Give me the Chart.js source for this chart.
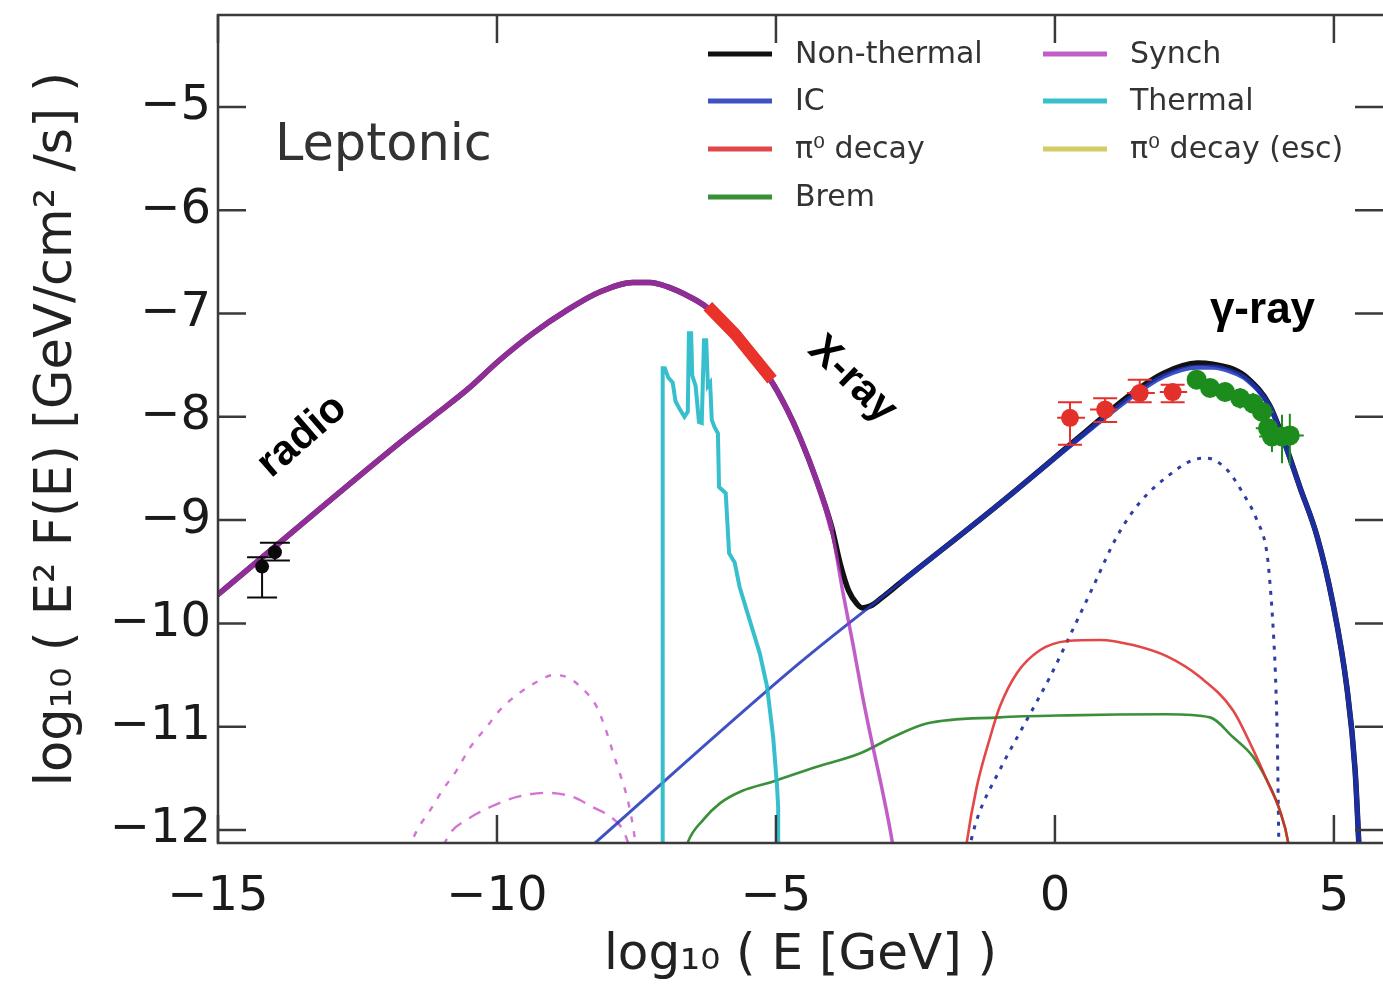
<!DOCTYPE html>
<html>
<head>
<meta charset="utf-8">
<script src="https://cdn.jsdelivr.net/npm/chart.js@4.4.1/dist/chart.umd.min.js"></script>
<style>
  html, body { margin: 0; padding: 0; background: #fff; }
  #wrap { width: 1383px; height: 986px; }
</style>
</head>
<body>
<div id="wrap"><canvas id="sed" width="1383" height="986"></canvas></div>
<script>
// Leptonic SED model, points are [log10 E (GeV), log10 E^2 F(E) (GeV/cm^2/s)]
const nonThermal = [
  [-15.2, -9.81], [-15, -9.72], [-11.74, -8.25], [-11.15, -8.0], [-10.54, -7.74], [-9.95, -7.45],
  [-9.35, -7.19], [-8.75, -6.97], [-8.15, -6.79], [-7.56, -6.70], [-7.26, -6.70], [-6.95, -6.74],
  [-6.54, -6.84], [-6.24, -6.94], [-5.77, -7.19], [-5.1, -7.64], [-4.8, -7.93], [-4.57, -8.2],
  [-4.27, -8.62], [-4.0, -9.07], [-3.85, -9.42], [-3.7, -9.68], [-3.55, -9.81], [-3.45, -9.85],
  [-3.3, -9.83], [-3.1, -9.75], [-2.78, -9.61], [-0.99, -8.84], [0.45, -8.19], [1.34, -7.79],
  [1.94, -7.58], [2.55, -7.48], [2.83, -7.49], [3.2, -7.54], [3.44, -7.62], [3.85, -7.89],
  [4.09, -8.21], [4.39, -8.68], [4.70, -9.16], [4.98, -9.80], [5.23, -10.61], [5.38, -11.42], [5.47, -12.4]
];
const synch = [
  [-15.2, -9.81], [-15, -9.72], [-11.74, -8.25], [-11.15, -8.0], [-10.54, -7.74], [-9.95, -7.45],
  [-9.35, -7.19], [-8.75, -6.97], [-8.15, -6.79], [-7.56, -6.70], [-7.26, -6.70], [-6.95, -6.74],
  [-6.54, -6.84], [-6.24, -6.94], [-5.77, -7.19], [-5.1, -7.64], [-4.8, -7.93], [-4.57, -8.2],
  [-4.27, -8.62], [-4.0, -9.1], [-3.8, -9.7], [-3.62, -10.2], [-3.45, -10.7], [-3.28, -11.15],
  [-3.1, -11.6], [-2.92, -12.1], [-2.85, -12.35]
];
const ic = [
  [-8.4, -12.2], [-4.57, -10.38], [-2.78, -9.61], [-0.99, -8.84], [0.45, -8.2], [1.34, -7.82],
  [1.94, -7.61], [2.55, -7.52], [2.83, -7.52], [3.2, -7.57], [3.44, -7.64], [3.85, -7.90],
  [4.09, -8.22], [4.39, -8.68], [4.70, -9.16], [4.98, -9.80], [5.23, -10.61], [5.38, -11.42], [5.47, -12.4]
];
const thermal = [
  [-7.03, -12.3], [-7.03, -7.53], [-6.99, -7.53], [-6.93, -7.62], [-6.85, -7.67], [-6.80, -7.85],
  [-6.72, -7.93], [-6.64, -8.0], [-6.58, -7.95], [-6.56, -7.19], [-6.52, -7.19], [-6.50, -7.6],
  [-6.44, -7.7], [-6.38, -8.05], [-6.33, -8.06], [-6.29, -7.26], [-6.25, -7.26], [-6.22, -7.7],
  [-6.18, -7.67], [-6.15, -8.03], [-6.10, -8.1], [-6.04, -8.16], [-6.02, -8.68], [-5.90, -8.74],
  [-5.84, -9.32], [-5.74, -9.41], [-5.65, -9.65], [-5.47, -9.97], [-5.29, -10.29], [-5.16, -10.61],
  [-5.05, -11.1], [-4.98, -11.58], [-4.96, -11.78], [-4.96, -12.3]
];
const pi0 = [
  [-1.62, -12.3], [-1.58, -12.12], [-1.40, -11.58], [-1.16, -11.10], [-0.99, -10.81], [-0.68, -10.48],
  [-0.27, -10.26], [0.22, -10.17], [0.81, -10.16], [1.40, -10.21], [2.01, -10.32], [2.60, -10.52],
  [3.19, -10.84], [3.55, -11.22], [3.80, -11.52], [4.03, -11.81], [4.18, -12.12], [4.22, -12.3]
];
const brem = [
  [-6.62, -12.2], [-6.58, -12.12], [-6.30, -11.90], [-6.0, -11.74], [-5.6, -11.62], [-5.05, -11.53],
  [-4.34, -11.40], [-3.5, -11.26], [-2.9, -11.1], [-2.3, -10.97], [-0.99, -10.91], [0.22, -10.89],
  [2.0, -10.88], [2.78, -10.91], [3.19, -11.10], [3.55, -11.29], [3.80, -11.52], [4.03, -11.81],
  [4.18, -12.12], [4.22, -12.3]
];
const pi0Esc = [];
const icDotted = [
  [-1.55, -12.2], [-1.40, -11.90], [-0.99, -11.42], [-0.50, -10.93], [-0.09, -10.52], [0.32, -10.06],
  [0.68, -9.65], [1.11, -9.16], [1.52, -8.83], [2.01, -8.58], [2.47, -8.42], [2.72, -8.40],
  [3.08, -8.51], [3.37, -8.74], [3.62, -9.0], [3.80, -9.32], [3.86, -9.65], [3.92, -10.13],
  [3.96, -10.61], [3.99, -11.25], [4.01, -12.03], [4.02, -12.3]
];
const synchDotted = [
  [-11.6, -12.2], [-11.43, -12.0], [-11.20, -11.81], [-10.97, -11.61], [-10.72, -11.42], [-10.48, -11.20],
  [-10.18, -11.0], [-9.95, -10.84], [-9.59, -10.67], [-9.23, -10.55], [-9.0, -10.50], [-8.75, -10.52],
  [-8.51, -10.61], [-8.21, -10.81], [-8.03, -11.06], [-7.92, -11.25], [-7.80, -11.45], [-7.67, -11.68],
  [-7.56, -11.97], [-7.50, -12.2]
];
const synchDashed = [
  [-11.0, -12.2], [-10.84, -12.03], [-10.54, -11.90], [-10.13, -11.78], [-9.64, -11.68], [-9.10, -11.64],
  [-8.64, -11.68], [-8.28, -11.78], [-7.97, -11.87], [-7.74, -12.0], [-7.6, -12.2]
];
const xrayBand = [[-6.22, -6.93], [-5.73, -7.2], [-5.07, -7.64]];

// measured points with error bars
const radioE = [-14.21, -13.98];
const radioF = [-9.45, -9.31];
const radioLo = [-9.75, -9.39];
const radioHi = [-9.36, -9.22];

const gevE = [0.27, 0.90, 1.52, 2.11];
const gevF = [-8.01, -7.93, -7.77, -7.76];
const gevLo = [-8.27, -8.05, -7.86, -7.86];
const gevHi = [-7.86, -7.82, -7.64, -7.69];
const gevELo = [0.04, 0.63, 1.29, 1.88];
const gevEHi = [0.54, 1.13, 1.79, 2.37];

const tevE = [2.54, 2.78, 3.05, 3.32, 3.55, 3.71, 3.82, 3.89, 4.07, 4.21];
const tevF = [-7.64, -7.72, -7.76, -7.82, -7.87, -7.95, -8.11, -8.19, -8.19, -8.18];
const tevLo = [-7.72, -7.80, -7.85, -7.92, -7.97, -8.07, -8.24, -8.34, -8.45, -8.47];
const tevHi = [-7.57, -7.64, -7.67, -7.72, -7.77, -7.83, -7.97, -8.03, -7.98, -7.97];
const tevELo = [2.38, 2.62, 2.88, 3.14, 3.36, 3.50, 3.60, 3.66, 3.82, 3.96];
const tevEHi = [2.70, 2.95, 3.22, 3.50, 3.74, 3.92, 4.04, 4.12, 4.32, 4.46];

const xTicks = { min: -15, max: 5.88, step: 5 };
const yTicks = { min: -12.126, max: -4.11, step: 1 };

const legendCols = [
  ['Non-thermal', 'IC', 'π⁰ decay', 'Brem'],
  ['Synch', 'Thermal', 'π⁰ decay (esc)']
];

const pts = (arr) => arr.map(p => ({ x: p[0], y: p[1] }));
const zip = (xs, ys) => xs.map((v, i) => ({ x: v, y: ys[i] }));

function curve(label, data, color, width, extra = {}) {
  return Object.assign({
    label: label,
    data: pts(data),
    showLine: true,
    borderColor: color,
    backgroundColor: color,
    borderWidth: width,
    pointRadius: 0,
    borderJoinStyle: 'round',
    borderCapStyle: 'butt',
    clip: 0,
    cubicInterpolationMode: 'monotone',
  }, extra);
}

function markers(label, xs, ys, color, r, err) {
  return Object.assign({
    label: label,
    data: zip(xs, ys),
    showLine: false,
    pointRadius: r,
    pointBorderWidth: 0,
    backgroundColor: color,
    borderColor: color,
  }, err);
}

// thick where the component carries the total, thin elsewhere
const wideLeft = (edge, wide, thin) => (c) => (c.p0.parsed.x < edge ? wide : thin);
const wideRight = (edge, wide, thin) => (c) => (c.p0.parsed.x > edge ? wide : thin);

const datasets = [
  markers('radio', radioE, radioF, '#0a0a0a', 7, { errLo: radioLo, errHi: radioHi, cap: 15 }),
  markers('GeV', gevE, gevF, '#e3302a', 9, { errLo: gevLo, errHi: gevHi, errL: gevELo, errR: gevEHi, cap: 12 }),
  markers('TeV', tevE, tevF, '#1c8c1c', 10, { errLo: tevLo, errHi: tevHi, errL: tevELo, errR: tevEHi, cap: 0 }),
  curve('X-ray data', xrayBand, '#e8322a', 12, { cubicInterpolationMode: 'default' }),
  curve('Thermal', thermal, 'rgba(34,184,200,0.9)', 4, { cubicInterpolationMode: 'default', borderJoinStyle: 'miter' }),
  curve('Synch', synch, 'rgba(178,52,188,0.8)', 5.5, { segment: { borderWidth: wideLeft(-4.1, 5.5, 3.5) } }),
  curve('IC', ic, 'rgba(30,52,185,0.85)', 5, { segment: { borderWidth: wideRight(-2.9, 5, 3) } }),
  curve('π⁰ decay', pi0, 'rgba(222,40,40,0.85)', 2.6),
  curve('Brem', brem, 'rgba(22,125,22,0.85)', 2.6),
  curve('π⁰ decay (esc)', pi0Esc, 'rgba(200,190,60,0.8)', 2.6),
  curve('IC sec', icDotted, 'rgba(36,52,160,0.95)', 3, { borderDash: [4, 7] }),
  curve('Synch sec', synchDotted, 'rgba(205,90,205,0.85)', 2.4, { borderDash: [6, 9] }),
  curve('Synch sec 2', synchDashed, 'rgba(205,90,205,0.85)', 2.4, { borderDash: [13, 9] }),
  curve('Non-thermal', nonThermal, '#111111', 5.5),
];

const minus = (v) => (v < 0 ? '\u2212' + Math.abs(v) : String(v));

// inward ticks on all four sides plus the frame
const framePlugin = {
  id: 'frame',
  afterDraw(chart) {
    const { ctx, chartArea: a, scales: { x, y } } = chart;
    const len = 28;
    ctx.save();
    ctx.strokeStyle = '#3a3a3a';
    ctx.lineWidth = 2.5;
    ctx.beginPath();
    x.ticks.forEach(t => {
      const px = x.getPixelForValue(t.value);
      ctx.moveTo(px, a.bottom); ctx.lineTo(px, a.bottom - len);
      ctx.moveTo(px, a.top); ctx.lineTo(px, a.top + len);
    });
    y.ticks.forEach(t => {
      const py = y.getPixelForValue(t.value);
      ctx.moveTo(a.left, py); ctx.lineTo(a.left + len, py);
      ctx.moveTo(a.right, py); ctx.lineTo(a.right - len, py);
    });
    ctx.stroke();
    ctx.strokeRect(a.left, a.top, a.right - a.left + 2, a.bottom - a.top);
    ctx.restore();
  }
};

const errorBarPlugin = {
  id: 'errorBars',
  afterDatasetsDraw(chart) {
    const { ctx, scales: { x, y } } = chart;
    ctx.save();
    chart.data.datasets.forEach(ds => {
      if (!ds.errLo) return;
      ctx.strokeStyle = ds.borderColor;
      ctx.lineWidth = 2;
      ctx.beginPath();
      ds.data.forEach((p, i) => {
        const px = x.getPixelForValue(p.x);
        const y0 = y.getPixelForValue(ds.errLo[i]);
        const y1 = y.getPixelForValue(ds.errHi[i]);
        ctx.moveTo(px, y0); ctx.lineTo(px, y1);
        if (ds.cap) {
          ctx.moveTo(px - ds.cap, y0); ctx.lineTo(px + ds.cap, y0);
          ctx.moveTo(px - ds.cap, y1); ctx.lineTo(px + ds.cap, y1);
        }
        if (ds.errL) {
          const py = y.getPixelForValue(p.y);
          ctx.moveTo(x.getPixelForValue(ds.errL[i]), py);
          ctx.lineTo(x.getPixelForValue(ds.errR[i]), py);
        }
      });
      ctx.stroke();
    });
    ctx.restore();
  }
};

const legendPlugin = {
  id: 'twoColLegend',
  afterDraw(chart) {
    const { ctx } = chart;
    const colX = [708, 1043];
    const rowY = [54, 101, 149, 197];
    ctx.save();
    ctx.font = '30px "DejaVu Sans"';
    ctx.textBaseline = 'middle';
    ctx.fillStyle = '#333';
    legendCols.forEach((col, c) => {
      col.forEach((label, r) => {
        const ds = chart.data.datasets.find(d => d.label === label);
        const x0 = colX[c], y0 = rowY[r];
        ctx.strokeStyle = ds.borderColor;
        ctx.lineWidth = 5;
        ctx.beginPath();
        ctx.moveTo(x0, y0); ctx.lineTo(x0 + 64, y0);
        ctx.stroke();
        ctx.fillText(label, x0 + 87, y0 + 1);
      });
    });
    ctx.restore();
  }
};

const notes = [
  { text: 'Leptonic', x: -13.98, y: -5.51, font: '51px "DejaVu Sans"', color: '#333', align: 'left', base: 'alphabetic', rot: 0 },
  { text: 'radio', x: -13.49, y: -8.19, font: 'bold 42px "Liberation Sans"', color: '#000', align: 'center', base: 'middle', rot: -41 },
  { text: 'X-ray', x: -3.63, y: -7.64, font: 'bold 42px "Liberation Sans"', color: '#000', align: 'center', base: 'middle', rot: 44 },
  { text: 'γ-ray', x: 3.72, y: -6.97, font: 'bold 44px "Liberation Sans"', color: '#000', align: 'center', base: 'middle', rot: 0 },
];

const notesPlugin = {
  id: 'notes',
  afterDraw(chart) {
    const { ctx, scales: { x, y } } = chart;
    notes.forEach(n => {
      ctx.save();
      ctx.translate(x.getPixelForValue(n.x), y.getPixelForValue(n.y));
      ctx.rotate(n.rot * Math.PI / 180);
      ctx.font = n.font;
      ctx.fillStyle = n.color;
      ctx.textAlign = n.align;
      ctx.textBaseline = n.base;
      ctx.fillText(n.text, 0, 0);
      ctx.restore();
    });
  }
};

const tickFont = { family: 'DejaVu Sans', size: 48 };

function noPad(s) {
  s.paddingTop = 0; s.paddingBottom = 0; s.paddingLeft = 0; s.paddingRight = 0;
}

new Chart(document.getElementById('sed'), {
  type: 'scatter',
  data: { datasets: datasets },
  options: {
    responsive: false,
    animation: false,
    devicePixelRatio: 1,
    layout: { autoPadding: false, padding: { top: 15, right: 0, left: 0, bottom: 0 } },
    plugins: { legend: { display: false }, tooltip: { enabled: false } },
    scales: {
      x: {
        type: 'linear',
        min: xTicks.min,
        max: xTicks.max,
        grid: { display: false, drawTicks: false },
        border: { display: false },
        ticks: { stepSize: xTicks.step, includeBounds: false, padding: 26, color: '#1a1a1a', font: tickFont, callback: minus },
        title: { display: true, text: 'log₁₀ ( E [GeV] )', color: '#222', font: { family: 'DejaVu Sans', size: 50 }, padding: { top: 0, bottom: 0 } },
        afterFit: (s) => { s.height = 143; noPad(s); },
      },
      y: {
        type: 'linear',
        min: yTicks.min,
        max: yTicks.max,
        grid: { display: false, drawTicks: false },
        border: { display: false },
        ticks: { stepSize: yTicks.step, includeBounds: false, padding: 7, color: '#1a1a1a', font: tickFont, callback: minus },
        title: { display: true, text: 'log₁₀ ( E² F(E) [GeV/cm² /s] )', color: '#222', font: { family: 'DejaVu Sans', size: 51 }, padding: { top: 27, bottom: 0 } },
        afterFit: (s) => { s.width = 218; noPad(s); },
      },
    },
  },
  plugins: [framePlugin, errorBarPlugin, legendPlugin, notesPlugin],
});
</script>
</body>
</html>
